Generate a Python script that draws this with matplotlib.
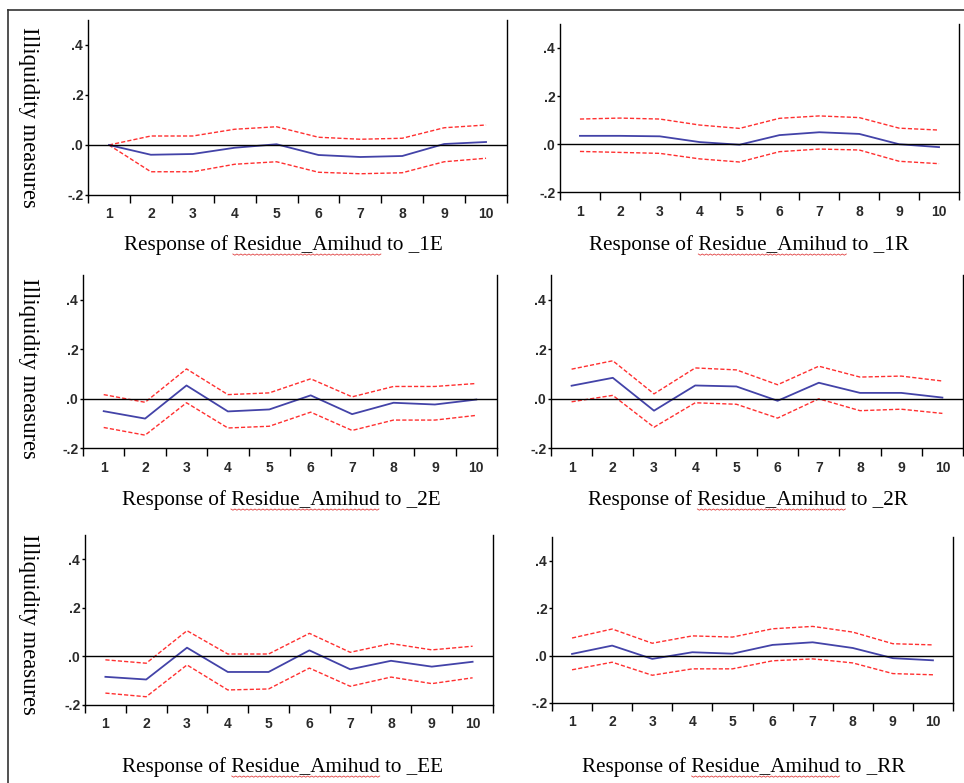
import numpy as np
import matplotlib
matplotlib.use("Agg")
import matplotlib.pyplot as plt
from matplotlib.lines import Line2D

W, H = 964, 783
BLUE = "#4343a8"; RED = "#ff3030"; INK = "#2a2a2a"

periods = np.arange(1, 11)
shocks = ["_1E", "_1R", "_2E", "_2R", "_EE", "_RR"]

resp_1E = [0.000, -0.039, -0.036, -0.011, 0.003, -0.040, -0.048, -0.044, 0.004, 0.012]
up_1E = [0.000, 0.036, 0.036, 0.063, 0.073, 0.031, 0.023, 0.027, 0.069, 0.080]
lo_1E = [0.000, -0.107, -0.107, -0.077, -0.067, -0.109, -0.115, -0.111, -0.067, -0.053]

resp_1R = [0.034, 0.034, 0.032, 0.008, -0.003, 0.037, 0.049, 0.042, -0.001, -0.013]
up_1R = [0.104, 0.108, 0.104, 0.079, 0.065, 0.107, 0.117, 0.110, 0.066, 0.058]
lo_1R = [-0.031, -0.035, -0.039, -0.062, -0.075, -0.032, -0.021, -0.025, -0.072, -0.082]

resp_2E = [-0.051, -0.081, 0.053, -0.052, -0.044, 0.013, -0.063, -0.017, -0.024, -0.004]
up_2E = [0.016, -0.015, 0.120, 0.016, 0.023, 0.080, 0.007, 0.049, 0.049, 0.061]
lo_2E = [-0.117, -0.148, -0.017, -0.119, -0.112, -0.055, -0.129, -0.087, -0.087, -0.068]

resp_2R = [0.052, 0.084, -0.049, 0.053, 0.049, -0.009, 0.064, 0.023, 0.023, 0.004]
up_2R = [0.119, 0.153, 0.019, 0.124, 0.116, 0.056, 0.131, 0.087, 0.091, 0.071]
lo_2R = [-0.013, 0.013, -0.116, -0.017, -0.023, -0.079, -0.001, -0.049, -0.043, -0.060]

resp_EE = [-0.084, -0.095, 0.036, -0.064, -0.064, 0.025, -0.053, -0.018, -0.042, -0.022]
up_EE = [-0.014, -0.028, 0.106, 0.010, 0.010, 0.095, 0.017, 0.053, 0.027, 0.042]
lo_EE = [-0.151, -0.166, -0.035, -0.138, -0.134, -0.048, -0.123, -0.085, -0.112, -0.088]

resp_RR = [0.007, 0.042, -0.014, 0.014, 0.008, 0.045, 0.056, 0.032, -0.011, -0.020]
up_RR = [0.074, 0.112, 0.052, 0.083, 0.078, 0.113, 0.123, 0.099, 0.050, 0.045]
lo_RR = [-0.060, -0.028, -0.083, -0.056, -0.056, -0.022, -0.014, -0.031, -0.076, -0.081]

series = [(resp_1E, up_1E, lo_1E), (resp_1R, up_1R, lo_1R), (resp_2E, up_2E, lo_2E),
          (resp_2R, up_2R, lo_2R), (resp_EE, up_EE, lo_EE), (resp_RR, up_RR, lo_RR)]

# axes boxes in pixels: left, top, right, bottom
boxes = [(88, 20, 507, 195), (560, 24, 959, 192),
         (83, 275, 497, 448), (551, 275, 963, 448),
         (85, 535, 493, 705), (552, 537, 953, 703)]
# title anchor (center x, baseline y) in pixels
title_pos = [(283, 250), (749, 250), (281, 505), (748, 505), (283, 772), (744, 772)]
ylab_pos = [(28, 117), (28, 368), (28, 624)]
TITLE_FS = 15.2
YLAB_FS = 16.3

fig = plt.figure(figsize=(W / 100, H / 100), dpi=100)
fig.patch.set_facecolor("white")

def px(x, y):
    return x / W, 1 - y / H

tick_kw = dict(fontsize=10, color=INK, family="Liberation Sans", fontweight="bold")
for i, ((l, t, r, b), (resp, up, lo)) in enumerate(zip(boxes, series)):
    ax = fig.add_axes([l / W, 1 - b / H, (r - l) / W, (b - t) / H])
    ax.plot(periods, up, color=RED, lw=1.0, dashes=(3, 1.5))
    ax.plot(periods, lo, color=RED, lw=1.0, dashes=(3, 1.5))
    ax.plot(periods, resp, color=BLUE, lw=1.3)
    ax.axhline(0, color="black", lw=1.0)
    ax.set_xlim(0.5, 10.5); ax.set_ylim(-0.2, 0.5)
    ax.set_yticks([-0.2, 0.0, 0.2, 0.4])
    ax.set_yticklabels(["-.2", ".0", ".2", ".4"], **tick_kw)
    ax.set_xticks(periods)
    ax.set_xticklabels([str(p) for p in periods], **tick_kw)
    ax.set_xticks(np.arange(0.5, 11, 1.0), minor=True)
    ax.tick_params(axis="x", which="major", length=0, pad=9)
    ax.tick_params(axis="x", which="minor", length=6, width=1.0, direction="out")
    ax.tick_params(axis="y", length=2.5, width=1.0, pad=1, direction="out")
    ax.spines["top"].set_visible(False)
    for s in ["left", "right", "bottom"]:
        ax.spines[s].set_linewidth(1.0)

    tx, ty = title_pos[i]
    fig.text(*px(tx, ty), "Response of Residue_Amihud to " + shocks[i], ha="center",
             va="baseline", fontsize=TITLE_FS, family="Liberation Serif", color="black")

for (x, y) in ylab_pos:
    fig.text(*px(x, y), "Illiquidity measures", rotation=-90, ha="center", va="center",
             fontsize=YLAB_FS, family="Liberation Serif", color="black")

# red spell-check squiggle under "Residue_Amihud"
renderer = fig.canvas.get_renderer()
for i, (tx, ty) in enumerate(title_pos):
    full = "Response of Residue_Amihud to " + shocks[i]
    kw = dict(fontsize=TITLE_FS, family="Liberation Serif")
    tmp = [fig.text(0, 0, s, **kw) for s in (full, "Response of ", "Response of Residue_Amihud")]
    wf, w0, w1 = [t.get_window_extent(renderer).width for t in tmp]
    for t in tmp:
        t.remove()
    x0 = tx - wf / 2 + w0
    x1 = tx - wf / 2 + w1
    xs = np.arange(x0, x1, 2.0)
    ys = ty + 4 + np.where(np.arange(len(xs)) % 2 == 0, 0.0, 1.2)
    fig.add_artist(Line2D(xs / W, 1 - ys / H, color="#e04040", lw=0.6))

# screenshot frame
fig.add_artist(Line2D([8 / W, 8 / W], [0, 1 - 10 / H], color="#333333", lw=1.2))
fig.add_artist(Line2D([8 / W, 1], [1 - 10 / H, 1 - 10 / H], color="#333333", lw=1.2))

fig.savefig("out.png", dpi=100, facecolor="white")
